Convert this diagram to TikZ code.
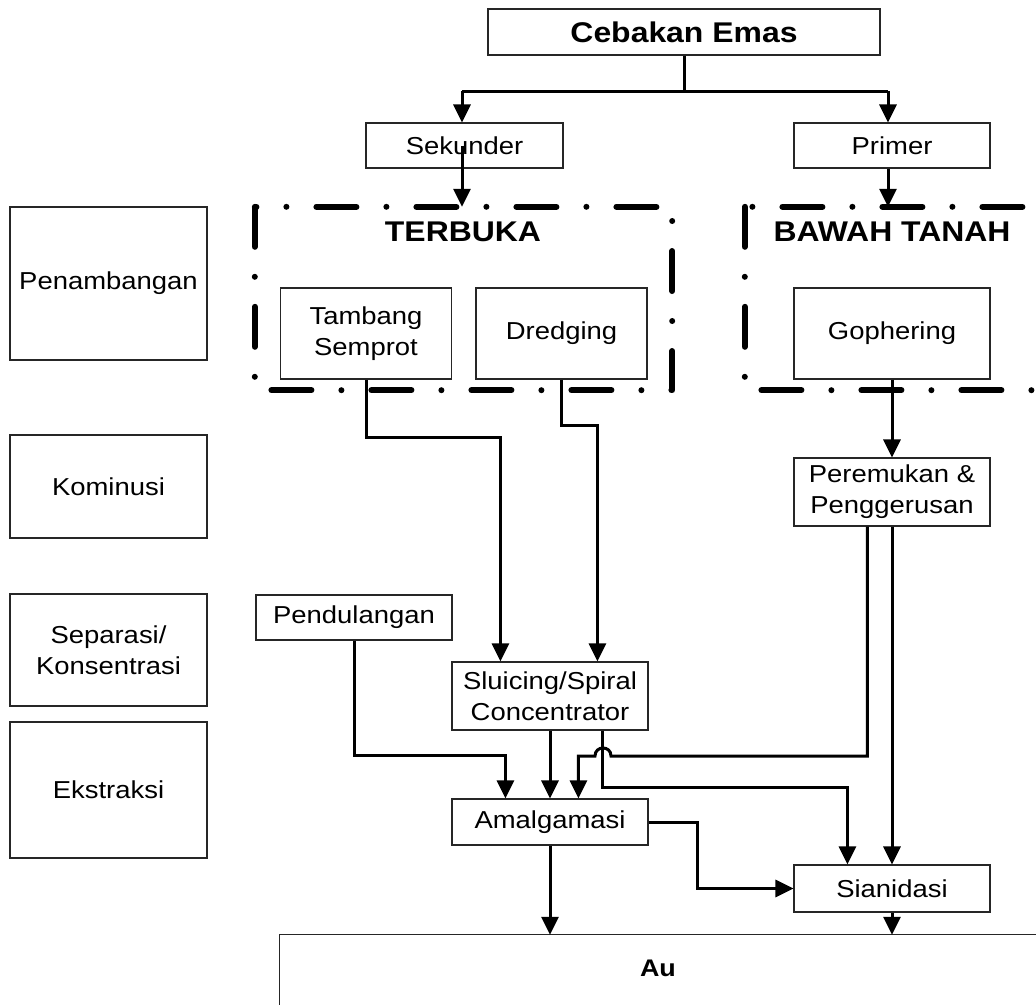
\documentclass[tikz,border=0pt]{standalone}
\usepackage{fontspec}
\newfontfamily\rg{Liberation Sans}[FakeStretch=1.12]
\usetikzlibrary{arrows.meta}
\begin{document}
\begin{tikzpicture}[x=1pt,y=-1pt,
  box/.style={draw=black!85, line width=1.1pt, inner sep=0pt, align=center,
    font={\rg\fontsize{24.5}{31}\selectfont}},
  bigbold/.style={font={\rg\bfseries\fontsize{28.5}{32}\selectfont}},
  conn/.style={line width=3pt, line join=miter},
  arr/.style={conn, -{Triangle[width=17pt,length=18pt]}},
  dashline/.style={line width=6pt, line cap=round, line join=round,
    dash pattern=on 40pt off 30pt on 0pt off 30pt},
  area/.style={inner sep=0pt}
]
\useasboundingbox (0,0) rectangle (1036,1004);
\clip (0,0) rectangle (1036,1004);
\fill[white] (0,0) rectangle (1036,1004);

% left stage boxes
\node[box, minimum width=197pt, minimum height=153pt] (pen) at (108.5,283.5) {Penambangan};
\node[box, minimum width=197pt, minimum height=103pt] (kom) at (108.5,486.5) {Kominusi};
\node[box, minimum width=197pt, minimum height=112pt] (sep) at (108.5,650) {Separasi/\\Konsentrasi};
\node[box, minimum width=197pt, minimum height=136pt] (eks) at (108.5,790) {Ekstraksi};

% top
\node[box, bigbold, minimum width=392pt, minimum height=46pt] (ceb) at (684,32) {Cebakan Emas};
\node[box, minimum width=197pt, minimum height=45pt] (sek) at (464.5,145.5) {Sekunder};
\node[box, minimum width=196pt, minimum height=45pt] (pri) at (892,145.5) {Primer};

% dashed areas
\node[area, minimum width=417pt, minimum height=183pt] (terb) at (463.5,298.5) {};
\node[area, minimum width=305pt, minimum height=183pt] (bawah) at (897.5,298.5) {};
\draw[dashline] (terb.north west) -- (terb.south west) -- (terb.south east) -- (terb.north east) -- cycle;
\draw[dashline] (bawah.north west) -- (bawah.south west) -- (bawah.south east) -- (bawah.north east) -- cycle;
\node[bigbold] (terbt) at (463,232) {TERBUKA};
\node[bigbold] (bawaht) at (892,232) {BAWAH TANAH};

\node[box, minimum width=171pt, minimum height=91pt] (tamb) at (366,333.5) {Tambang\\Semprot};
\node[box, minimum width=171pt, minimum height=91pt] (dred) at (561.5,333.5) {Dredging};
\node[box, minimum width=196pt, minimum height=91pt] (goph) at (892,333.5) {Gophering};

\node[box, minimum width=196pt, minimum height=68pt] (pere) at (892,492) {Peremukan \&\\Penggerusan};
\node[box, minimum width=196pt, minimum height=45pt] (pend) at (354,617.5) {Pendulangan};
\node[box, minimum width=196pt, minimum height=68pt] (slu) at (550,696) {Sluicing/Spiral\\Concentrator};
\node[box, minimum width=196pt, minimum height=46pt] (amal) at (550,822) {Amalgamasi};
\node[box, minimum width=196pt, minimum height=47pt] (sian) at (892,888.5) {Sianidasi};

\node[inner sep=0pt, minimum width=756pt, minimum height=66pt,
  font={\rg\bfseries\fontsize{24}{28}\selectfont}] (au) at (658,968) {Au};
\draw[draw=black!85, line width=1.1pt] ([xshift=30pt]au.north east) -- (au.north west) -- ([yshift=-30pt]au.south west);

% connectors
\coordinate (hL) at (462,91);
\coordinate (hR) at (888,91);
\draw[conn] (ceb.south) -- (ceb.south |- hL);
\draw[conn] (hL) -- (hR);
\draw[arr] (hL) -- (hL |- sek.north);
\draw[arr] (hR) -- (hR |- pri.north);
\draw[arr] (hL |- sek.center) -- (hL |- terb.north);
\draw[arr] (hR |- pri.south) -- (hR |- bawah.north);

\draw[arr] (tamb.south) -- ++(0,58) -| ([xshift=49pt]slu.north west);
\draw[arr] (dred.south) -- ++(0,46) -| ([xshift=146pt]slu.north west);
\draw[arr] (goph.south) -- (pere.north);
\draw[arr] (pend.south) -- ++(0,115) -| ([xshift=54pt]amal.north west);
\draw[arr] (slu.south) -- (amal.north);
\draw[arr] ([xshift=151pt]slu.south west) -- ++(0,57) -| ([xshift=54pt]sian.north west);
\draw[arr] ([xshift=74pt]pere.south west) |- (611,756)
   .. controls (611,745.3) and (595,745.3) .. (595,756) -| ([xshift=127pt]amal.north west);
\draw[arr] (pere.south) -- (sian.north);
\draw[arr] (amal.east) -- ++(49,0) |- (sian.west);
\draw[arr] (amal.south) -- (amal.south |- au.north);
\draw[arr] (sian.south) -- (sian.south |- au.north);
\end{tikzpicture}
\end{document}
